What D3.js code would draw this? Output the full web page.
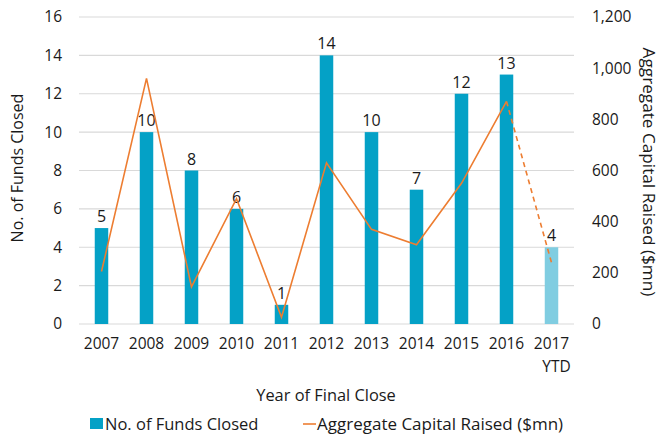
<!DOCTYPE html>
<html>
<head>
<meta charset="utf-8">
<script src="https://cdn.jsdelivr.net/npm/d3@7"></script>
<style>
  body { margin: 0; background: #fff; }
  svg text { font-family: "Open Sans", "DejaVu Sans", sans-serif; fill: #1a1a1a; }
</style>
</head>
<body>
<div id="chart"></div>
<script>
// data
var years = ["2007", "2008", "2009", "2010", "2011", "2012", "2013", "2014", "2015", "2016", "2017"];
var yearLabels = [["2007"], ["2008"], ["2009"], ["2010"], ["2011"], ["2012"], ["2013"], ["2014"], ["2015"], ["2016"], ["2017", "YTD"]];
var fundsClosed = [5, 10, 8, 6, 1, 14, 10, 7, 12, 13, 4];
var capitalRaised = [205, 960, 145, 490, 26, 630, 370, 310, 550, 870, 240];
var leftTicks = [0, 2, 4, 6, 8, 10, 12, 14, 16];
var rightTicks = [0, 200, 400, 600, 800, 1000, 1200];

var svgWidth = 667;
var svgHeight = 436;
var margin = { top: 17, right: 93, bottom: 112, left: 79 };
var width = svgWidth - margin.left - margin.right;
var height = svgHeight - margin.top - margin.bottom;

var svg = d3.select("#chart")
    .append("svg")
    .attr("width", svgWidth)
    .attr("height", svgHeight);

var chartGroup = svg.append("g")
    .attr("transform", `translate(${margin.left}, ${margin.top})`);

var x = d3.scaleBand()
    .domain(years)
    .range([0, width])
    .paddingInner(0.7)
    .paddingOuter(0.35);

var yLeft = d3.scaleLinear().domain([0, 16]).range([height, 0]);
var yRight = d3.scaleLinear().domain([0, 1200]).range([height, 0]);

// gridlines
chartGroup.selectAll("line.grid")
    .data(leftTicks)
    .enter()
    .append("line")
    .attr("class", "grid")
    .attr("x1", 0)
    .attr("x2", width)
    .attr("y1", d => yLeft(d))
    .attr("y2", d => yLeft(d))
    .attr("stroke", "#d9d9d9")
    .attr("stroke-width", 1.2);

// left axis
var leftAxis = d3.axisLeft(yLeft).tickValues(leftTicks).tickSize(0).tickPadding(17);
var gl = chartGroup.append("g").call(leftAxis);
gl.select(".domain").remove();
gl.selectAll("text").attr("font-size", 15.5);

// right axis
var rightAxis = d3.axisRight(yRight).tickValues(rightTicks).tickSize(0).tickPadding(18)
    .tickFormat(d3.format(","));
var gr = chartGroup.append("g").attr("transform", `translate(${width}, 0)`).call(rightAxis);
gr.select(".domain").remove();
gr.selectAll("text").attr("font-size", 15.5);

// bottom axis
var bottomAxis = d3.axisBottom(x).tickSize(0).tickPadding(14);
var gb = chartGroup.append("g").attr("transform", `translate(0, ${height})`).call(bottomAxis);
gb.select(".domain").remove();
gb.selectAll("text")
    .attr("font-size", 15.5)
    .text(null)
    .each(function(d, i) {
        var t = d3.select(this);
        yearLabels[i].forEach(function(s, j) {
            t.append("tspan")
                .attr("x", j === 0 ? 0 : 5)
                .attr("dy", j === 0 ? "0.71em" : "1.5em")
                .text(s);
        });
    });

// bars
chartGroup.selectAll("rect.bar")
    .data(fundsClosed)
    .enter()
    .append("rect")
    .attr("class", "bar")
    .attr("x", (d, i) => x(years[i]))
    .attr("y", d => yLeft(d))
    .attr("width", x.bandwidth())
    .attr("height", d => height - yLeft(d))
    .attr("fill", (d, i) => i === years.length - 1 ? "#80cde1" : "#04a1c6");

// bar labels
chartGroup.selectAll("text.lbl")
    .data(fundsClosed)
    .enter()
    .append("text")
    .attr("class", "lbl")
    .attr("x", (d, i) => x(years[i]) + x.bandwidth() / 2)
    .attr("y", d => yLeft(d) - 6)
    .attr("text-anchor", "middle")
    .attr("font-size", 16)
    .text(d => d);

// line
var line = d3.line()
    .x((d, i) => x(years[i]) + x.bandwidth() / 2)
    .y(d => yRight(d));

var solid = capitalRaised.slice(0, capitalRaised.length - 1);
chartGroup.append("path")
    .datum(solid)
    .attr("d", line)
    .attr("fill", "none")
    .attr("stroke", "#ed7d31")
    .attr("stroke-width", 1.6);

var n = capitalRaised.length;
chartGroup.append("path")
    .attr("d", d3.line()([
        [x(years[n - 2]) + x.bandwidth() / 2, yRight(capitalRaised[n - 2])],
        [x(years[n - 1]) + x.bandwidth() / 2, yRight(capitalRaised[n - 1])]
    ]))
    .attr("fill", "none")
    .attr("stroke", "#ed7d31")
    .attr("stroke-width", 1.6)
    .attr("stroke-dasharray", "5,4");

// axis titles
svg.append("text")
    .attr("transform", "rotate(-90)")
    .attr("x", -168)
    .attr("y", 23)
    .attr("text-anchor", "middle")
    .attr("font-size", 16)
    .text("No. of Funds Closed");

svg.append("text")
    .attr("transform", "translate(643, 172) rotate(90)")
    .attr("text-anchor", "middle")
    .attr("font-size", 17.2)
    .text("Aggregate Capital Raised ($mn)");

svg.append("text")
    .attr("x", 326)
    .attr("y", 401)
    .attr("text-anchor", "middle")
    .attr("font-size", 16.4)
    .text("Year of Final Close");

// legend
svg.append("rect")
    .attr("x", 90).attr("y", 418)
    .attr("width", 13).attr("height", 11)
    .attr("fill", "#04a1c6");
svg.append("text")
    .attr("x", 105).attr("y", 430)
    .attr("font-size", 16.5)
    .text("No. of Funds Closed");
svg.append("line")
    .attr("x1", 303).attr("x2", 316)
    .attr("y1", 424).attr("y2", 424)
    .attr("stroke", "#ed7d31")
    .attr("stroke-width", 1.6);
svg.append("text")
    .attr("x", 317).attr("y", 430)
    .attr("font-size", 17)
    .text("Aggregate Capital Raised ($mn)");
</script>
</body>
</html>
